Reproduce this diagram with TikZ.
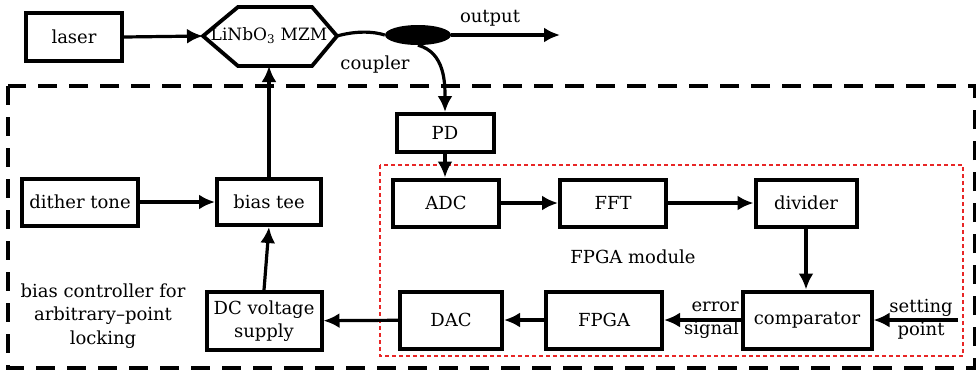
\documentclass[tikz,border=0pt]{standalone}
\usepackage{fontspec}
\setmainfont{DejaVu Serif}
\usetikzlibrary{arrows.meta,shapes.geometric}
\definecolor{dotred}{RGB}{232,38,38}
\begin{document}
\begin{tikzpicture}[x=1pt,y=-1pt,
  every node/.style={font=\fontsize{18}{23.5}\selectfont, inner sep=0pt},
  blk/.style={draw, line width=4pt, minimum height=47pt, align=center},
  tall/.style={blk, minimum height=57pt},
  link/.style={line width=3.2pt, -{Latex[length=16pt,width=15pt]}},
  wire/.style={line width=3.2pt}]
\useasboundingbox (0,0) rectangle (976,373);

% outer frame of the bias controller and the FPGA region
\draw[line width=3.4pt, dash pattern=on 19pt off 12pt] (8,86) rectangle (975,368);
\draw[dotred, line width=1.8pt, dash pattern=on 4pt off 3pt] (380,165) rectangle (963,356);

% optical part
\node[blk, minimum width=96pt, minimum height=48pt] (laser) at (74,37) {laser};
\draw[line width=3.8pt, line join=miter]
  (203,36) -- (238,7) -- (312,7) -- (337,36) -- (312,66) -- (238,66) -- cycle;
\coordinate (mzmL) at (203,36);
\coordinate (mzmR) at (337,36);
\coordinate (mzmB) at (268,66);
\node[font=\fontsize{17}{20}\selectfont] (mzm) at (269,36) {LiNbO\textsubscript{3} MZM};
\node[ellipse, fill, minimum width=66pt, minimum height=20pt] (cpl) at (418,35) {};
\coordinate (out) at (560,35);
\node (outlbl) at (490,18) {output};
\node (cpllbl) at (375,65) {coupler};

% electrical blocks
\node[blk, minimum width=97pt, minimum height=38pt] (pd) at (445,133) {PD};
\node[blk, minimum width=106pt] (adc) at (446,203) {ADC};
\node[blk, minimum width=106pt] (fft) at (613,203) {FFT};
\node[blk, minimum width=101pt] (div) at (806,203) {divider};
\node[tall, minimum width=129pt] (cmp) at (807,320) {comparator};
\node[tall, minimum width=116pt] (fpga) at (604,320) {FPGA};
\node[tall, minimum width=102pt] (dac) at (451,320) {DAC};
\node[tall, minimum width=115pt, minimum height=58pt] (dc) at (264,321) {DC voltage\\supply};
\node[blk, minimum width=104pt, minimum height=46pt] (bt) at (269,202) {bias tee};
\node[blk, minimum width=116pt] (dith) at (80,202) {dither tone};
\coordinate (setin) at (958,320);

% labels
\node (fpgamod) at (633,257) {FPGA module};
\node[align=right, anchor=east] (err) at (739,320) {error\\signal};
\node[align=center] (setp) at (921,319) {setting\\point};
\node[align=center] (ctl) at (103,316) {bias controller for\\arbitrary--point\\locking};

% connections
\draw[link] (laser.east) -- (mzmL);
\draw[wire] (mzmR) .. controls (355,31) and (372,31) .. (cpl.west);
\draw[link] (cpl.east) -- (out);
\draw[link] (cpl.south) to[out=-15, in=90] (pd.north);
\draw[link] (pd.south) -- (pd.south |- adc.north);
\draw[link] (adc) -- (fft);
\draw[link] (fft) -- (div);
\draw[link] (div.south) -- (div.south |- cmp.north);
\draw[link] (setin) -- (cmp.east);
\draw[link] (cmp) -- (fpga);
\draw[link] (fpga) -- (dac);
\draw[link] (dac) -- (dc);
\draw[link] (dc.north) -- (bt.south);
\draw[link] (dith) -- (bt);
\draw[link] (bt.north) -- (bt.north |- mzmB);
\end{tikzpicture}
\end{document}
